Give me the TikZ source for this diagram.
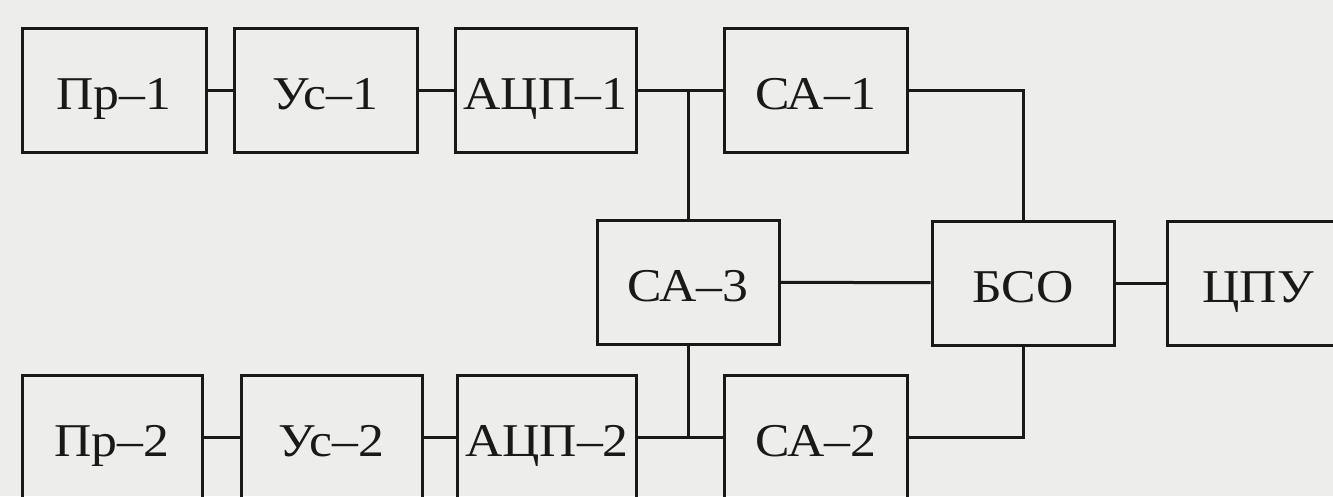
\documentclass[tikz,border=0pt]{standalone}
\usepackage{fontspec}
\setmainfont{Liberation Serif}
\newfontfamily\lbl[FakeStretch=1.1]{Liberation Serif}
\definecolor{paper}{RGB}{237,237,235}
\definecolor{ink}{RGB}{25,25,25}
\begin{document}
\begin{tikzpicture}[x=1pt,y=-1pt,
  blk/.style={draw=ink,line width=3pt,rectangle,inner sep=0pt,minimum height=124pt,
    text height=42pt,text depth=4pt,
    font=\lbl\fontsize{47}{52}\selectfont,text=ink},
  wire/.style={draw=ink,line width=3pt}]
\fill[paper] (0,0) rectangle (1333,496);
\useasboundingbox (0,0) rectangle (1333,496);
\clip (0,0) rectangle (1333,496);
% row 1
\node[blk,minimum width=184pt] (pr1) at (114,90.5) {Пр–1};
\node[blk,minimum width=183pt] (us1) at (325.5,90.5) {Ус–1};
\node[blk,minimum width=181pt] (adc1) at (545.5,90.5) {АЦП–1};
\node[blk,minimum width=183pt] (ca1) at (815.5,90.5) {СА–1};
% middle row
\node[blk,minimum width=182pt] (ca3) at (688,282) {СА–3};
\node[blk,minimum width=182pt] (bso) at (1023,283) {БСО};
\node[blk,minimum width=182pt] (cpu) at (1258,283) {ЦПУ};
% row 2
\node[blk,minimum width=180pt] (pr2) at (112,437) {Пр–2};
\node[blk,minimum width=181pt] (us2) at (331.5,437) {Ус–2};
\node[blk,minimum width=179pt] (adc2) at (547,437) {АЦП–2};
\node[blk,minimum width=183pt] (ca2) at (816,437) {СА–2};
\coordinate (j1) at (688,90.5);
\coordinate (j2) at (688,437);
% connectors
\draw[wire] (pr1) -- (us1);
\draw[wire] (us1) -- (adc1);
\draw[wire] (adc1) -- (ca1);
\draw[wire] (j1) -- (ca3.north);
\draw[wire] (pr2) -- (us2);
\draw[wire] (us2) -- (adc2);
\draw[wire] (adc2) -- (ca2);
\draw[wire] (ca3.south) -- (j2);
\draw[wire] (ca3) -- (bso);
\draw[wire] (bso) -- (cpu);
\draw[wire] (ca1.east) -| (bso.north);
\draw[wire] (ca2.east) -| (bso.south);
\end{tikzpicture}
\end{document}
